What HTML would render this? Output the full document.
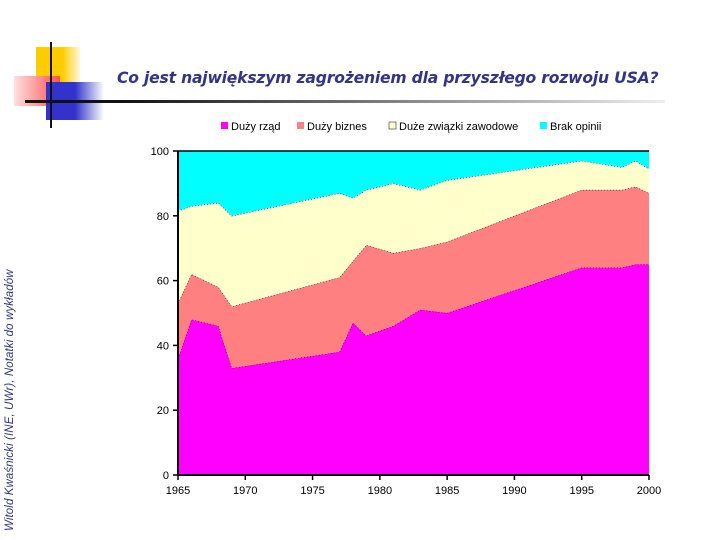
<!DOCTYPE html>
<html><head><meta charset="utf-8"><style>
body{margin:0;background:#fff;}
#root{position:relative;width:720px;height:540px;overflow:hidden;background:#fff;font-family:"Liberation Sans",sans-serif;}
.title{position:absolute;left:117px;top:69px;font:italic bold 15.6px "DejaVu Sans","Liberation Sans",sans-serif;color:#333388;white-space:nowrap;letter-spacing:-0.2px}
.side{position:absolute;left:4px;top:531px;transform-origin:0 0;transform:rotate(-90deg);font:italic 11.5px "Liberation Sans",sans-serif;color:#333388;white-space:nowrap;letter-spacing:0.1px}
</style></head><body>
<div id="root">
<div style="position:absolute;left:36px;top:47px;width:44px;height:38px;background:linear-gradient(90deg,#ffcc00 60%,#fff8dd)"></div>
<div style="position:absolute;left:14px;top:76px;width:46px;height:30px;background:linear-gradient(90deg,#ffe0e0,#ff5050)"></div>
<div style="position:absolute;left:46px;top:82px;width:58px;height:38px;background:linear-gradient(90deg,#3333cc 50%,#ffffff)"></div>
<div style="position:absolute;left:50px;top:42px;width:2px;height:86px;background:#111"></div>
<div style="position:absolute;left:25px;top:100px;width:640px;height:3px;background:linear-gradient(90deg,#111 15%,#888 60%,#eee)"></div>
<div class="title">Co jest największym zagrożeniem dla przyszłego rozwoju USA?</div>
<div class="side">Witold Kwaśnicki (INE, UWr), Notatki do wykładów</div>
<svg id="chart" width="720" height="540" style="position:absolute;left:0;top:0"></svg>
</div>
<script>
const years=[1965,1966,1968,1969,1977,1978,1979,1981,1983,1985,1995,1998,1999,2000];
const govt=[36,48,46,33,38,47,43,46,51,50,64,64,65,65];
const business=[17,14,12,19,23,19,28,22.5,19,22,24,24,24,22];
const unions=[28.5,21,26,28,26,19.5,17,21.5,18,19,9,7,8,7.5];
const noOpinion=[18.5,17,16,20,13,14.5,12,10,12,9,3,5,3,5.5];
const seriesNames=["Duży rząd","Duży biznes","Duże związki zawodowe","Brak opinii"];
const yTicks=[0,20,40,60,80,100];
const xTicks=[1965,1970,1975,1980,1985,1990,1995,2000];
const colors=["#ff00ff","#ff8080","#ffffcc","#00ffff"];
const NS="http://www.w3.org/2000/svg";
const svg=document.getElementById('chart');
const X0=178,X1=649,Y0=475,Y1=151;
const xs=v=>X0+(v-1965)/(2000-1965)*(X1-X0);
const ys=v=>Y0-v/100*(Y0-Y1);
function mk(t,a){const e=document.createElementNS(NS,t);for(const k in a)e.setAttribute(k,a[k]);svg.appendChild(e);return e;}
const series=[govt,business,unions,noOpinion];
let base=years.map(()=>0);
series.forEach((s,i)=>{
  const top=base.map((b,j)=>b+s[j]);
  let d='M'+years.map((y,j)=>xs(y)+','+ys(top[j])).join('L');
  for(let j=years.length-1;j>=0;j--)d+='L'+xs(years[j])+','+ys(base[j]);
  const p=mk('path',{d:d+'Z',fill:colors[i]});
  
  
  if(i<3){const l=mk('polyline',{points:years.map((y,j)=>xs(y)+','+ys(top[j])).join(' '),fill:'none',stroke:'#000','stroke-width':1,'stroke-dasharray':'1,2'});
  
  }
  base=top;
});
const tl=mk('line',{x1:X0,x2:X1,y1:Y1,y2:Y1,stroke:'#000','stroke-width':1.5});


const ya=mk('line',{x1:X0,x2:X0,y1:Y1,y2:Y0,stroke:'#000','stroke-width':2});


const xa=mk('line',{x1:X0,x2:X1,y1:Y0,y2:Y0,stroke:'#000','stroke-width':2});


yTicks.forEach(v=>{
  const t=mk('line',{x1:X0-5,x2:X0,y1:ys(v),y2:ys(v),stroke:'#000','stroke-width':1.5});
  
  
  const tx=mk('text',{x:X0-9,y:ys(v)+4,'text-anchor':'end','font-size':11,'font-family':'Liberation Sans, sans-serif'});
  tx.textContent=v;
  
  
});
xTicks.forEach(v=>{
  const t=mk('line',{x1:xs(v),x2:xs(v),y1:Y0,y2:Y0+5,stroke:'#000','stroke-width':1.5});
  
  
  const tx=mk('text',{x:xs(v),y:Y0+19,'text-anchor':'middle','font-size':11,'font-family':'Liberation Sans, sans-serif'});
  tx.textContent=v;
  
  
});
const lx=[221,297,389,540];
seriesNames.forEach((n,i)=>{
  const r=mk('rect',{x:lx[i],y:122,width:7,height:7,fill:colors[i],stroke:i==2?'#000':'none','stroke-width':0.5});
  
  
  const tx=mk('text',{x:lx[i]+10,y:130,'font-size':11,'font-family':'Liberation Sans, sans-serif'});
  tx.textContent=n;
  
  
});
</script>
</body></html>
